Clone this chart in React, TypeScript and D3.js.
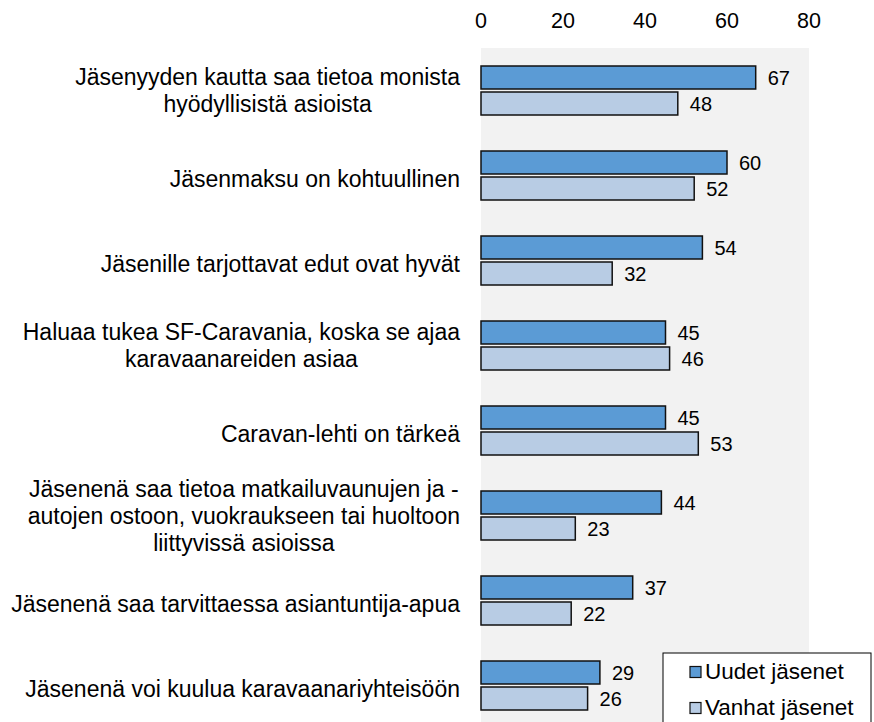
import React, { useEffect, useRef } from 'react';
import * as d3 from 'd3';

const categories: string[][] = [
  ['Jäsenyyden kautta saa tietoa monista', 'hyödyllisistä asioista'],
  ['Jäsenmaksu on kohtuullinen'],
  ['Jäsenille tarjottavat edut ovat hyvät'],
  ['Haluaa tukea SF-Caravania, koska se ajaa', 'karavaanareiden asiaa'],
  ['Caravan-lehti on tärkeä'],
  ['Jäsenenä saa tietoa matkailuvaunujen ja -', 'autojen ostoon, vuokraukseen tai huoltoon', 'liittyvissä asioissa'],
  ['Jäsenenä saa tarvittaessa asiantuntija-apua'],
  ['Jäsenenä voi kuulua karavaanariyhteisöön'],
];
const uudet = [67, 60, 54, 45, 45, 44, 37, 29];
const vanhat = [48, 52, 32, 46, 53, 23, 22, 26];
const xTicks = [0, 20, 40, 60, 80];
const seriesNames = ['Uudet jäsenet', 'Vanhat jäsenet'];
const colors = ['#5b9bd5', '#b8cce4'];

const W = 874;
const H = 722;
const FONT = '"Liberation Sans", Arial, sans-serif';

export default function App() {
  const svgRef = useRef<SVGSVGElement>(null);

  useEffect(() => {
    if (!svgRef.current) return;
    const svg = d3.select(svgRef.current);
    svg.selectAll('*').remove();

    const x = d3.scaleLinear().domain([0, 80]).range([481, 809]);
    const y = d3.scaleBand<number>()
      .domain(d3.range(categories.length))
      .range([48, 48 + 85 * categories.length]);
    const barH = 23;
    const gap = 3;

    // plot background
    svg.append('rect')
      .attr('x', x(0)).attr('y', 48)
      .attr('width', x(80) - x(0)).attr('height', H - 48)
      .attr('fill', '#f2f2f2');

    // top axis labels
    svg.append('g')
      .selectAll('text')
      .data(xTicks)
      .enter()
      .append('text')
      .attr('x', d => x(d))
      .attr('y', 28)
      .attr('text-anchor', 'middle')
      .attr('font-family', FONT)
      .attr('font-size', 21.5)
      .attr('fill', '#000')
      .text(d => d);

    const series = [uudet, vanhat];
    series.forEach((vals, si) => {
      const g = svg.append('g');
      const yOf = (i: number) => y(i)! + y.bandwidth() / 2 - barH - gap / 2 + si * (barH + gap);
      g.selectAll('rect')
        .data(vals)
        .enter()
        .append('rect')
        .attr('x', x(0))
        .attr('y', (_, i) => yOf(i))
        .attr('width', d => x(d) - x(0))
        .attr('height', barH)
        .attr('fill', colors[si])
        .attr('stroke', '#111')
        .attr('stroke-width', 1.5);
      g.selectAll('text')
        .data(vals)
        .enter()
        .append('text')
        .attr('x', d => x(d) + 12)
        .attr('y', (_, i) => yOf(i) + barH / 2 + 7)
        .attr('font-family', FONT)
        .attr('font-size', 20)
        .attr('fill', '#000')
        .text(d => d);
    });

    // category labels: block right-aligned, lines centered within block
    const lineH = 27;
    const labelRight = 460;
    categories.forEach((lines, i) => {
      const cy = y(i)! + y.bandwidth() / 2 + (lines.length === 1 ? 11 : 8);
      const t = svg.append('text')
        .attr('font-family', FONT)
        .attr('font-size', 23)
        .attr('fill', '#000')
        .attr('text-anchor', 'middle');
      const spans = lines.map((ln, j) =>
        t.append('tspan')
          .attr('y', cy + (j - (lines.length - 1) / 2) * lineH)
          .text(ln)
      );
      const maxW = d3.max(spans, s => (s.node() as SVGTSpanElement).getComputedTextLength()) || 0;
      spans.forEach(s => s.attr('x', labelRight - maxW / 2));
    });

    // legend
    const lg = svg.append('g');
    lg.append('rect')
      .attr('x', 663).attr('y', 653)
      .attr('width', 208).attr('height', 80)
      .attr('fill', '#fff').attr('stroke', '#000').attr('stroke-width', 1);
    seriesNames.forEach((name, i) => {
      const ly = 672 + i * 36;
      lg.append('rect')
        .attr('x', 690).attr('y', ly - 5.5)
        .attr('width', 11).attr('height', 11)
        .attr('fill', colors[i]).attr('stroke', '#111').attr('stroke-width', 1.2);
      lg.append('text')
        .attr('x', 705).attr('y', ly + 7)
        .attr('font-family', FONT)
        .attr('font-size', 22.5)
        .attr('fill', '#000')
        .text(name);
    });
  }, []);

  return (
    <svg
      ref={svgRef}
      width={W}
      height={H}
      style={{ position: 'absolute', left: 0, top: 0, background: '#fff' }}
    />
  );
}
